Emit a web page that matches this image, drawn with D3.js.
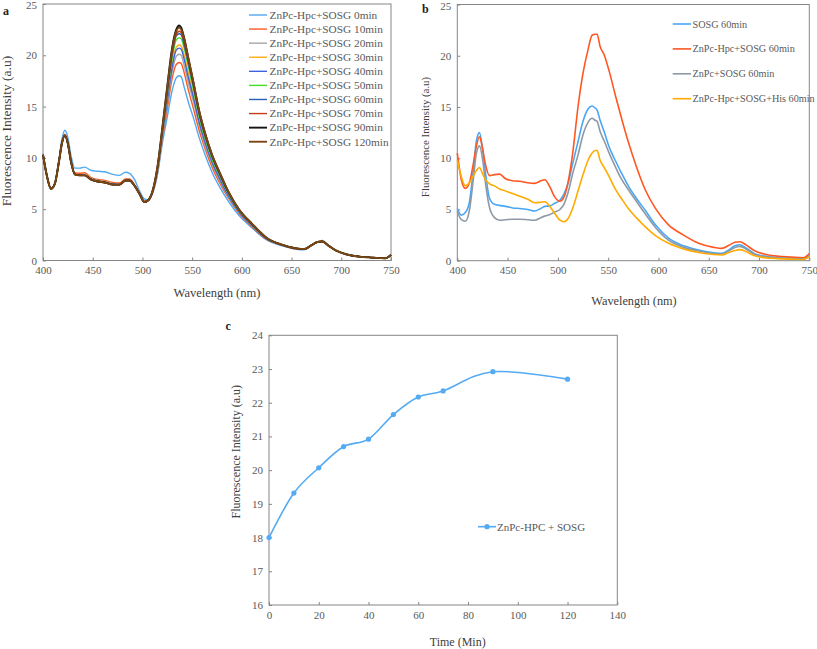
<!DOCTYPE html>
<html><head><meta charset="utf-8">
<script src="https://cdn.jsdelivr.net/npm/d3@7"></script>
<style>body{margin:0;background:#fff}svg{display:block}text{font-family:"Liberation Serif","Times New Roman",serif}</style>
</head><body><svg id="chart" width="817" height="649"></svg>
<script>
// ---------- DATA ----------
const wavelengths = [400,404,408,412,416,419,422,425,428,432,437,442,448,455,462,470,477,483,487,492,497,502,506,510,515,520,525,530,534,537,539,542,546,551,557,563,570,578,587,597,610,625,640,655,663,670,676,681,687,695,705,718,732,744,750];

// Panel a: ZnPc-Hpc+SOSG over time
const a0   = [10.45,8.4,7.0,7.6,9.8,11.8,12.7,12.0,10.3,9.0,9.0,9.1,8.8,8.7,8.65,8.4,8.3,8.6,8.5,7.9,6.8,6.0,5.9,6.5,8.3,11.4,14.0,16.6,17.8,18.0,17.9,16.9,15.5,14.0,12.0,10.3,8.6,7.1,5.7,4.4,3.2,2.0,1.45,1.1,1.05,1.45,1.8,1.95,1.5,1.0,0.65,0.4,0.3,0.22,0.55];
const a10  = [10.35,8.3,7.0,7.55,9.7,11.5,12.3,11.5,9.8,8.55,8.5,8.55,8.1,7.9,7.8,7.6,7.55,7.95,7.95,7.4,6.6,5.8,5.85,6.55,8.5,11.8,14.8,17.8,19.1,19.3,19.2,18.3,16.7,14.9,12.7,10.9,9.1,7.5,6.0,4.6,3.3,2.05,1.5,1.12,1.08,1.45,1.8,1.9,1.48,0.98,0.62,0.4,0.3,0.22,0.55];
const a20  = [10.3,8.25,7.0,7.5,9.65,11.45,12.25,11.45,9.75,8.45,8.35,8.4,8.0,7.8,7.7,7.5,7.45,7.85,7.85,7.35,6.55,5.75,5.85,6.6,8.6,12.0,15.3,18.4,19.9,20.1,20.0,19.0,17.4,15.6,13.2,11.2,9.4,7.7,6.1,4.7,3.4,2.1,1.5,1.14,1.1,1.47,1.8,1.88,1.46,0.96,0.61,0.39,0.29,0.21,0.55];
const a30  = [10.3,8.2,7.0,7.5,9.6,11.4,12.2,11.4,9.7,8.4,8.3,8.35,7.95,7.75,7.65,7.45,7.4,7.8,7.8,7.3,6.5,5.7,5.85,6.65,8.75,12.3,15.8,19.2,20.8,21.0,20.9,20.0,18.3,16.2,13.6,11.6,9.7,8.0,6.3,4.8,3.45,2.12,1.52,1.15,1.1,1.48,1.82,1.9,1.46,0.96,0.6,0.38,0.28,0.21,0.55];
const a40  = [10.3,8.2,7.0,7.5,9.6,11.4,12.2,11.4,9.7,8.4,8.3,8.3,7.95,7.75,7.6,7.45,7.4,7.8,7.8,7.3,6.5,5.7,5.85,6.6,8.7,12.2,15.6,18.9,20.5,20.7,20.6,19.6,17.9,16.0,13.5,11.5,9.6,7.9,6.2,4.75,3.4,2.1,1.5,1.14,1.1,1.47,1.8,1.86,1.45,0.95,0.6,0.38,0.28,0.21,0.55];
const a50  = [10.3,8.2,7.0,7.5,9.6,11.4,12.2,11.4,9.7,8.4,8.3,8.3,7.9,7.7,7.6,7.4,7.4,7.8,7.8,7.3,6.5,5.7,5.9,6.65,8.85,12.5,16.2,19.8,21.5,21.7,21.6,20.7,19.0,16.8,14.0,11.9,9.9,8.2,6.4,4.9,3.5,2.15,1.53,1.16,1.1,1.48,1.8,1.86,1.45,0.95,0.6,0.38,0.28,0.21,0.55];
const a60  = [10.3,8.2,7.0,7.5,9.6,11.4,12.2,11.4,9.7,8.4,8.3,8.3,7.9,7.7,7.6,7.4,7.4,7.8,7.8,7.3,6.5,5.7,5.9,6.7,8.9,12.6,16.4,20.1,21.9,22.1,22.0,21.0,19.3,17.1,14.3,12.1,10.1,8.3,6.5,4.95,3.55,2.18,1.54,1.17,1.11,1.49,1.8,1.85,1.45,0.95,0.6,0.38,0.28,0.21,0.55];
const a70  = [10.3,8.2,7.0,7.5,9.6,11.4,12.2,11.4,9.7,8.4,8.3,8.3,7.9,7.7,7.6,7.4,7.4,7.8,7.8,7.3,6.5,5.7,5.9,6.7,8.95,12.7,16.6,20.3,22.0,22.35,22.2,21.3,19.5,17.3,14.4,12.2,10.2,8.4,6.55,4.95,3.55,2.18,1.54,1.17,1.11,1.49,1.8,1.85,1.45,0.95,0.6,0.38,0.28,0.21,0.55];
const a90  = [10.3,8.2,7.0,7.5,9.6,11.4,12.2,11.4,9.7,8.4,8.3,8.3,7.9,7.7,7.6,7.4,7.4,7.8,7.8,7.3,6.5,5.7,5.9,6.7,9.05,12.9,17.0,20.8,22.5,22.9,22.7,21.7,19.8,17.5,14.6,12.4,10.3,8.5,6.6,5.0,3.6,2.2,1.55,1.18,1.12,1.5,1.8,1.85,1.45,0.95,0.6,0.38,0.28,0.21,0.55];
const a120 = [10.3,8.2,7.0,7.5,9.6,11.4,12.2,11.4,9.7,8.4,8.3,8.3,7.9,7.7,7.6,7.4,7.4,7.8,7.8,7.3,6.5,5.7,5.9,6.7,9.0,12.8,16.8,20.6,22.3,22.7,22.5,21.6,19.8,17.5,14.6,12.4,10.3,8.5,6.6,5.0,3.6,2.2,1.55,1.18,1.12,1.5,1.8,1.85,1.45,0.95,0.6,0.38,0.28,0.21,0.55];
const labelsA = ["ZnPc-Hpc+SOSG 0min","ZnPc-Hpc+SOSG 10min","ZnPc-Hpc+SOSG 20min","ZnPc-Hpc+SOSG 30min","ZnPc-Hpc+SOSG 40min","ZnPc-Hpc+SOSG 50min","ZnPc-Hpc+SOSG 60min","ZnPc-Hpc+SOSG 70min","ZnPc-Hpc+SOSG 90min","ZnPc-Hpc+SOSG 120min"];
const colorsA = ["#4fa8f2","#ff5a22","#a6a6a6","#ffaa10","#3c62de","#45dd28","#2a5fb8","#c63a18","#141414","#7a4712"];

// Panel b: controls at 60 min
const bSOSG = [5.1,4.45,4.7,5.7,8.9,11.7,12.5,11.0,8.6,6.1,5.5,5.4,5.3,5.15,5.1,5.0,4.85,5.1,5.3,5.35,5.6,5.9,6.5,7.5,9.6,11.6,13.6,14.8,15.1,14.9,14.7,13.7,12.6,11.1,9.8,8.6,7.3,6.1,4.9,3.5,2.2,1.45,1.05,0.78,0.72,1.05,1.45,1.55,1.25,0.7,0.45,0.3,0.22,0.18,0.5];
const bHpc  = [10.5,7.9,7.05,7.6,9.5,11.2,12.1,11.0,9.4,8.3,8.4,8.45,8.0,7.8,7.75,7.6,7.55,7.8,7.9,7.2,6.2,5.8,6.2,7.6,10.7,15.0,18.3,20.6,22.0,22.1,22.1,20.9,20.1,18.5,16.2,14.0,11.6,9.2,6.9,5.1,3.5,2.5,1.7,1.3,1.2,1.5,1.8,1.85,1.55,1.0,0.65,0.45,0.35,0.28,0.7];
const bZnPc = [4.8,4.0,3.85,4.9,8.0,10.5,11.2,10.0,7.6,5.2,4.2,3.95,4.0,4.05,4.05,4.0,3.95,4.2,4.35,4.5,4.75,5.0,5.5,6.6,8.6,10.3,12.3,13.5,13.9,13.7,13.6,12.6,11.7,10.5,9.2,8.0,6.95,5.8,4.55,3.25,2.0,1.3,0.95,0.7,0.65,0.95,1.3,1.4,1.15,0.65,0.4,0.28,0.2,0.15,0.45];
const bHis  = [9.8,8.2,7.3,7.6,8.3,8.8,9.1,8.5,7.9,7.5,7.3,7.0,6.8,6.55,6.3,6.0,5.65,5.7,5.75,5.3,4.6,3.95,3.8,4.1,5.2,6.8,8.4,9.8,10.5,10.75,10.75,9.8,9.1,8.2,7.0,6.1,5.1,4.2,3.3,2.45,1.7,1.15,0.8,0.6,0.56,0.8,1.0,1.08,0.9,0.5,0.3,0.2,0.15,0.12,0.4];
const labelsB = ["SOSG 60min","ZnPc-Hpc+SOSG 60min","ZnPc+SOSG 60min","ZnPc-Hpc+SOSG+His 60min"];
const colorsB = ["#4aa6f5","#ff5722","#8d99a5","#ffab00"];

// Panel c: peak intensity vs time
const timeMin = [0,10,20,30,40,50,60,70,90,120];
const peakIntensity = [18.0,19.32,20.07,20.70,20.92,21.65,22.17,22.35,22.92,22.70];

const xTicksSpec = [400,450,500,550,600,650,700,750];
const yTicksSpec = [0,5,10,15,20,25];
const xTicksTime = [0,20,40,60,80,100,120,140];
const yTicksTime = [16,17,18,19,20,21,22,23,24];

// ---------- DRAW ----------
const svg = d3.select("#chart");
svg.append("rect").attr("width",817).attr("height",649).attr("fill","#fff");
const FONT = "Liberation Serif, Times New Roman, serif";
const AX = "#858585", TXT = "#595959";

function styleAxis(sel){
  sel.attr("font-family",FONT).attr("font-size",11);
  sel.select(".domain").remove();
  sel.selectAll(".tick line").attr("stroke",AX);
  sel.selectAll(".tick text").attr("fill",TXT);
}
function panel(c){
  const x = d3.scaleLinear().domain(c.xd).range([c.l,c.r]);
  const y = d3.scaleLinear().domain(c.yd).range([c.b,c.t]);
  const g = svg.append("g");
  g.append("g").attr("transform",`translate(0,${c.b})`)
    .call(d3.axisBottom(x).tickValues(c.xt).tickSize(-3).tickSizeOuter(0).tickPadding(6)).call(styleAxis);
  const ya = g.append("g").attr("transform",`translate(${c.l},0)`)
    .call(d3.axisLeft(y).tickValues(c.yt).tickSize(-3).tickSizeOuter(0).tickPadding(6)).call(styleAxis);
  if (c.nudgeTop) ya.selectAll(".tick text").filter(d=>d===c.yd[1]).attr("dy","0.45em");
  g.append("rect").attr("x",c.l).attr("y",c.t).attr("width",c.r-c.l).attr("height",c.b-c.t)
    .attr("fill","none").attr("stroke",AX).attr("stroke-width",1);
  return {x,y,g};
}
function txt(x,y,s,size,opts={}){
  const t = svg.append("text").attr("x",x).attr("y",y).text(s)
    .attr("font-size",size).attr("fill",opts.fill||TXT).attr("font-family",FONT);
  if(opts.anchor) t.attr("text-anchor",opts.anchor);
  if(opts.rot) t.attr("transform",`rotate(-90,${x},${y})`);
  if(opts.bold) t.attr("font-weight","bold");
  return t;
}

// Panel a
const pa = panel({l:43,r:391,t:4,b:260.5,xd:[400,750],yd:[0,25],xt:xTicksSpec,yt:yTicksSpec,nudgeTop:true});
const seriesA = [a0,a10,a20,a30,a40,a50,a60,a70,a90,a120];
const lineA = d3.line().x((d,i)=>pa.x(wavelengths[i])).y(d=>pa.y(d)).curve(d3.curveMonotoneX);
seriesA.forEach((s,k)=>{
  pa.g.append("path").attr("d",lineA(s)).attr("fill","none").attr("stroke",colorsA[k])
    .attr("stroke-width",k>=8?1.9:1.4);
});
labelsA.forEach((l,k)=>{
  const yy = 15 + k*14.08;
  svg.append("line").attr("x1",249).attr("x2",267).attr("y1",yy).attr("y2",yy)
    .attr("stroke",colorsA[k]).attr("stroke-width",k>=8?1.9:1.4);
  txt(269.5,yy+3.8,l,11.3);
});
txt(3,15,"a",12,{bold:true,fill:"#222"});
txt(11,131,"Fluorescence Intensity (a.u)",13.5,{anchor:"middle",rot:true,fill:"#404040"});
txt(217,297,"Wavelength (nm)",12.5,{anchor:"middle",fill:"#404040"});

// Panel b
const pb = panel({l:457.3,r:809.3,t:4.5,b:260.7,xd:[400,750],yd:[0,25],xt:xTicksSpec,yt:yTicksSpec,nudgeTop:true});
const seriesB = [bSOSG,bHpc,bZnPc,bHis];
const lineB = d3.line().x((d,i)=>pb.x(wavelengths[i])).y(d=>pb.y(d)).curve(d3.curveMonotoneX);
seriesB.forEach((s,k)=>{
  pb.g.append("path").attr("d",lineB(s)).attr("fill","none").attr("stroke",colorsB[k]).attr("stroke-width",1.6);
});
labelsB.forEach((l,k)=>{
  const yy = 24 + k*24.9;
  svg.append("line").attr("x1",672.7).attr("x2",691).attr("y1",yy).attr("y2",yy)
    .attr("stroke",colorsB[k]).attr("stroke-width",1.6);
  txt(692.5,yy+3.5,l,10.2);
});
txt(422,13,"b",12,{bold:true,fill:"#222"});
txt(429,137,"Fluorescence Intensity (a.u)",10.8,{anchor:"middle",rot:true,fill:"#404040"});
txt(634,305,"Wavelength (nm)",12.3,{anchor:"middle",fill:"#404040"});

// Panel c
const pc = panel({l:269,r:617.3,t:335.3,b:605,xd:[0,140],yd:[16,24],xt:xTicksTime,yt:yTicksTime});
const lineC = d3.line().x((d,i)=>pc.x(timeMin[i])).y(d=>pc.y(d)).curve(d3.curveCardinal.tension(0));
const cCol = "#55abf3";
pc.g.append("path").attr("d",lineC(peakIntensity)).attr("fill","none").attr("stroke",cCol).attr("stroke-width",1.6);
pc.g.selectAll("circle.pt").data(peakIntensity).join("circle")
  .attr("cx",(d,i)=>pc.x(timeMin[i])).attr("cy",d=>pc.y(d)).attr("r",2.6).attr("fill",cCol);
svg.append("line").attr("x1",478).attr("x2",496).attr("y1",526.7).attr("y2",526.7).attr("stroke",cCol).attr("stroke-width",1.6);
svg.append("circle").attr("cx",487).attr("cy",526.7).attr("r",2.6).attr("fill",cCol);
txt(497,530.5,"ZnPc-HPC + SOSG",11,{});
txt(225.5,329.5,"c",12,{bold:true,fill:"#222"});
txt(240,451.7,"Fluorescence Intensity (a.u)",12,{anchor:"middle",rot:true,fill:"#404040"});
txt(457.7,646,"Time (Min)",12,{anchor:"middle",fill:"#404040"});
</script></body></html>
